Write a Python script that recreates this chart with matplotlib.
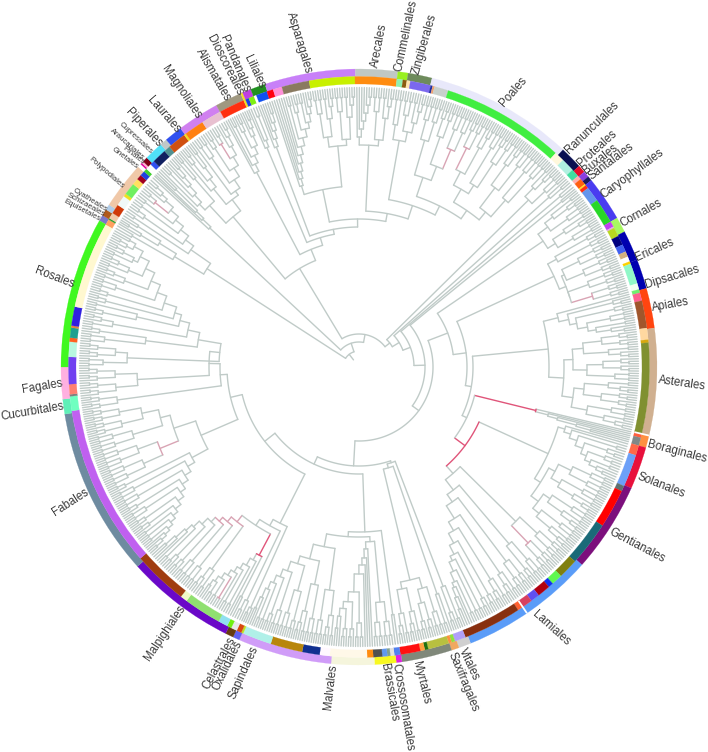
import numpy as np
import matplotlib
matplotlib.use('Agg')
import matplotlib.pyplot as plt
from matplotlib.collections import LineCollection

plt.rcParams['font.family'] = ['Liberation Sans', 'DejaVu Sans']

# outer ring, clockwise from the ferns: clock angle where each order ends
order_names = ["Equisetales", "Schizaeales", "Cyatheales", "Polypodiales", "Gnetales", "Pinales",
               "Araucariales", "Cupressales", "Piperales", "Chloranthales", "Laurales", "Magnoliales",
               "Alismatales", "Dioscoreales", "Pandanales", "Liliales", "Asparagales", "Arecales",
               "Commelinales", "Zingiberales", "Poales", "Ranunculales", "Proteales", "Buxales",
               "Santalales", "Caryophyllales", "Cornales", "Ericales", "Dipsacales", "Apiales",
               "Asterales", "Boraginales", "Solanales", "Gentianales", "Lamiales", "Vitales",
               "Saxifragales", "Myrtales", "Crossosomatales", "Brassicales", "Malvales", "Sapindales",
               "Oxalidales", "Celastrales", "Malpighiales", "Fabales", "Cucurbitales", "Fagales", "Rosales"]
order_ends = [300.6, 301.9, 303.0, 312.2, 312.9, 313.2, 313.6, 314.6, 318.3, 319.7, 323.2, 331.4,
              336.6, 337.0, 338.7, 341.6, 359.3, 7.5, 9.5, 14.2, 43.2, 47.6, 49.1, 50.3, 51.2, 60.0,
              63.0, 68.9, 74.7, 82.5, 103.2, 105.7, 114.0, 131.6, 158.0, 160.4, 161.9, 171.7, 172.8,
              177.0, 185.4, 203.7, 205.0, 206.6, 228.0, 260.9, 263.8, 270.0, 299.4]
order_colors = ["#7b78c8", "#b05a1c", "#b0cce8", "#f0c8a8", "#ffffff", "#e000a0", "#ffb0d0", "#800018",
                "#50e0f8", "#c0c8c8", "#3050f0", "#d080f0", "#a09880", "#f0e020", "#c040e0", "#209020",
                "#c880f8", "#c0c8c4", "#98f020", "#6e8b5c", "#e8e8fa", "#0a1050", "#e8102c", "#8a40e0",
                "#1a1a60", "#4a3cf0", "#a8f860", "#0000b0", "#0000b0", "#ff4510", "#d0b090", "#ff9040",
                "#e8103c", "#7c0f7c", "#5a9cf8", "#d0d0d0", "#f0a860", "#80887a", "#e020e0", "#f8f820",
                "#f5f5dc", "#d09cf8", "#6060f0", "#663c10", "#6a08c8", "#6e8ba0", "#60f0b8", "#ffb0e0",
                "#40f820"]

# inner ring (families): end angle and colour
family_ends = [300.5, 300.8, 302, 303.9, 306, 306.6, 309, 310.3, 311.3, 312.3, 313, 314.2, 315.1, 318,
               319.3, 323, 323.4, 327.4, 331.5, 336.6, 337, 337.7, 338.8, 339.3, 341.5, 342.8, 344.6,
               350.1, 359.2, 7.5, 8.7, 9.5, 10.2, 14.3, 14.7, 15.1, 17.9, 42.6, 44.6, 47.3, 48.9, 49.7,
               51, 51.3, 52, 55, 60, 61.1, 61.4, 63.2, 65.1, 66.6, 67.7, 68.7, 69.2, 73.3, 74.5, 75.2,
               76.8, 82.3, 84.6, 85.2, 103.3, 104.1, 105.7, 107.7, 114.2, 115.3, 123.1, 132, 136, 138.2,
               139.2, 141.8, 143.6, 145.6, 146.8, 158.5, 160.7, 161.4, 162, 166.2, 166.9, 167.8, 171.8,
               173, 173.8, 174.4, 175.4, 177.2, 178.4, 185.8, 187.8, 191.3, 197.7, 203.5, 203.9, 204.9,
               206.1, 207, 208.9, 216.4, 217.8, 228.8, 261.3, 264.2, 264.6, 266.6, 272, 275, 275.8,
               277.8, 278.2, 282, 299.3]
family_colors = ["#ffa060", "#30a030", "#f0c8a8", "#d03808", "#f0f8f8", "#f0e020", "#70f060", "#ffe060",
                 "#a00020", "#2040e0", "#40d030", "#ffffff", "#3050f0", "#102060", "#509090", "#d05010",
                 "#f0e020", "#ff8010", "#e8c0d0", "#ff3010", "#f0e020", "#2040e0", "#80f010", "#ffffff",
                 "#1050f0", "#ff0010", "#ff90d8", "#8a7a60", "#c8f000", "#ff8c10", "#90f0b0", "#8b5a10",
                 "#ffe4b0", "#7b68ee", "#2030a0", "#f0a070", "#c8d0cc", "#40ee40", "#fff8dc", "#b0f0e0",
                 "#40e0a0", "#ffb0b0", "#ff6010", "#ffe020", "#ff3010", "#6495ed", "#28d828", "#c040f0",
                 "#e0b0e0", "#b8d820", "#000080", "#4060f0", "#d0b080", "#ffffff", "#ffd000", "#90f8c8",
                 "#f0fff0", "#70f070", "#ff6090", "#a0562c", "#ffd8a0", "#d8a810", "#809030", "#ff6040",
                 "#808888", "#ff6848", "#6ca0f8", "#607070", "#ff0000", "#1a6a78", "#808010", "#60f850",
                 "#1030f0", "#b00010", "#6050f0", "#d84060", "#ff6030", "#883010", "#b0a0f8", "#90e040",
                 "#ff9040", "#b8c040", "#207010", "#ffa040", "#ff1010", "#5080f0", "#e0e0e0", "#80a090",
                 "#6098f0", "#505050", "#ff8c10", "#fff8e8", "#fff8ff", "#103090", "#b8860b", "#b0f0e8",
                 "#c0e020", "#d84810", "#e8e8e8", "#70f010", "#90e0f0", "#90e070", "#f0f8c8", "#a03c10",
                 "#c060f0", "#70ffc0", "#808080", "#ff8070", "#7040f0", "#b8f8e0", "#ff6020", "#20a090",
                 "#e08040", "#3020e0", "#fff8d0"]

ring_notches = [103.3, 145.7]

# order labels: name, clock angle and radius of the end next to the ring, rotation
label_names = ["Equisetales", "Schizaeales", "Cyatheales", "Polypodiales", "Gnetales", "Pinales",
               "Araucariales", "Cupressales", "Piperales", "Laurales", "Magnoliales", "Alismatales",
               "Dioscoreales", "Pandanales", "Liliales", "Asparagales", "Arecales", "Commelinales",
               "Zingiberales", "Poales", "Ranunculales", "Proteales", "Buxales", "Santalales",
               "Caryophyllales", "Cornales", "Ericales", "Dipsacales", "Apiales", "Asterales",
               "Boraginales", "Solanales", "Gentianales", "Lamiales", "Vitales", "Saxifragales",
               "Myrtales", "Crossosomatales", "Brassicales", "Malvales", "Sapindales", "Oxalidales",
               "Celastrales", "Malpighiales", "Fabales", "Cucurbitales", "Fagales", "Rosales"]
label_angles = [299.6, 300.8, 301.9, 307.3, 312.0, 313.4, 313.9, 316.0, 318.1, 322.4, 327.2, 333.9,
                336.4, 337.7, 340.9, 350.2, 3.0, 7.7, 11.0, 28.6, 44.0, 47.4, 49.1, 50.6, 55.0, 61.4,
                68.5, 74.0, 78.6, 92.5, 105.0, 111.4, 123.2, 144.6, 160.0, 162.2, 169.0, 173.0, 175.2,
                185.0, 200.4, 203.5, 205.0, 216.4, 245.4, 262.5, 266.9, 286.0]
label_radii = [298, 297, 297, 297, 298, 297, 300, 298, 298, 297, 297, 297, 297, 297, 296, 298, 300, 298,
               298, 298, 299, 299, 298, 298, 297, 298, 298, 298, 299, 300, 299, 299, 300, 302, 300, 300,
               300, 299, 298, 299, 298, 299, 299, 297, 298, 298, 297, 297]
label_rotations = [-27.6, -29, -31.5, -41, -37, -37, -41.8, -43, -47.7, -49.4, -56, -60, -63, -67, -65,
                   -73, 79, 78, 74, 49, 44, 42, 38, 37, 36.5, 29, 24, 17, 10, -8, -14.5, -21.5, -27.7,
                   -42, -65, -67.6, -76, -80.6, -80, 83.4, 65.7, 64, 62, 56, 33, 9.8, 9.5, -21]
small_labels = ["Equisetales", "Schizaeales", "Cyatheales", "Polypodiales", "Gnetales", "Pinales",
                "Araucariales", "Cupressales"]

RED = "#e0557a"
PINK = "#d9a4b4"


def lad(*steps, flip=False):
    # a comb: each step is a node radius, or (radius, side clade)
    node = None
    for step in reversed(steps):
        r, side = step if isinstance(step, tuple) else (step, 1)
        if node is None:
            node = [r, 2] if side == 1 else [r, side, 1]
        else:
            node = [r, node, side] if flip else [r, side, node]
    return node


# small clades next to the rim
t2 = [270, 2]
t3 = [262, 1, t2]
t4 = [256, t2, t2]
t5 = [250, t2, t3]
t6 = [244, t3, t3]
t8 = [236, t4, t4]
t9 = [232, t4, t5]

# subtree of every order: [node radius, child, child...], an integer child is that many tips
# (colour, node) paints the stem and the arc of that node
trees = {
    "Equisetales": [262, 2],
    "Schizaeales": [255, 1, t2],
    "Cyatheales": [262, 2],
    "Polypodiales": lad((205, t2), (215, t3), (225, t2), (235, t2), (245, (PINK, t3)), 255, 262, 270),
    "Gnetales": [240, 1],
    "Pinales": [240, 1],
    "Araucariales": [245, 1],
    "Cupressales": [255, 2],
    "Piperales": lad(228, (238, t2), 248, 258, 268),
    "Chloranthales": [250, 1, t2],
    "Laurales": lad(230, (240, t3), 252, 268),
    "Magnoliales": lad(215, (225, t4), (235, t3), (245, (PINK, t3)), 255, 265, 272),
    "Alismatales": lad(220, 228, (236, t2), (244, t3), 254, 262, 270),
    "Dioscoreales": [250, 1],
    "Pandanales": [245, 1, t2],
    "Liliales": lad(235, 243, 251, 259, 268),
    "Asparagales": [181, lad(190, 197, 204, 212, 220, 228, (236, t2), (244, t3), (250, t2), 258, 265, 272),
                    [222, [232, t4, t5], [228, t4, t5]]],
    "Arecales": [222, lad(230, 238, 246, 254, 262, 270), [228, t4, t5]],
    "Commelinales": [245, t2, t2],
    "Zingiberales": [240, t4, t5],
    "Poales": [180, [200, t8, [215, t6, (PINK, t8)]],
               [190, [205, [220, (PINK, t6), t5], [215, t4, t6]], [200, [225, t5, t4], [222, t4, t4]]]],
    "Ranunculales": [238, [250, t2, t3], t4],
    "Proteales": [255, 1, t2],
    "Buxales": [264, 2],
    "Santalales": [262, 2],
    "Caryophyllales": [223, [235, [245, t2, t3], t4], [232, [246, t2, t3], [250, t2, t2]]],
    "Cornales": [225, t3, t3],
    "Ericales": [225, t6, t6],
    "Dipsacales": [222, t6, (PINK, t6)],
    "Apiales": lad(205, (215, t3), (222, t3), (232, t4), (240, t2), 255, 268),
    "Asterales": [205, [214, [225, t6, t5], [228, t6, t4]], [216, [226, t5, t6], [232, t4, t5]]],
    "Boraginales": (RED, lad(182, 195, 205, 225, 240)),
    "Solanales": lad(215, 222, (230, t2), (238, t3), (244, t3), (250, t2), 258, 265),
    "Gentianales": [215, [222, t8, t9], [224, t9, t9]],
    "Lamiales": lad((142, [220, t6, (PINK, t6)]), (155, [232, t4, t3]), (164, t6), (179, t5), (189, t5),
                    (200, t3), (210, t3), (215, t2), (225, t2), (235, t2), 240, 250, 262),
    "Vitales": [235, t2, t3],
    "Saxifragales": [240, 1, t2],
    "Myrtales": [219, [230, t4, t6], [226, t5, t5]],
    "Crossosomatales": [250, 2],
    "Brassicales": t8,
    "Malvales": lad(182, 191, 198, 207, (225, t4), (235, t3), (242, t3), 250, 262),
    "Sapindales": lad((183, [225, t5, t4]), (198, [222, t4, t5]), (206, [232, t3, t4]), (216, t4), (224, t3),
                      (232, t2), (240, t2), 250, 262),
    "Oxalidales": [264, 1, t2],
    "Celastrales": [259, 1, t2],
    "Malpighiales": [189,
                     (RED, [213, [258, 2],
                            lad(220, (228, t2), (234, t2), 240, (246, (PINK, t2)), (252, t2), (258, t2), 264)]),
                     (PINK, [197, t5,
                             (PINK, [203, t4,
                                     (PINK, [208, t4,
                                             lad((214, t3), (222, t3), (230, t2), 238, 250, 262)])])])],
    "Fabales": [172,
                lad((190, t3), (198, t4), (205, t4), (212, t3), (218, t4), (225, t3), (232, t3), (238, t2),
                    (244, t2), (250, t2), 256, 262, 270, flip=True),
                [195, (PINK, [215, t8, t8]), [205, t8, [222, t6, t6]]]],
    "Cucurbitales": t6,
    "Fagales": [222, t6, t6],
    "Rosales": lad((140, [232, t4, t6]), (163, [215, t4, t3]), (175, t5), (185, [228, t3, t2]), (192, t3),
                   (205, t3), (215, t4), (225, t5), (235, t5), (245, t5), (255, t3), 262),
}

# backbone: the orders hang from these nodes by name
ferns = [181, [215, "Equisetales", [235, "Schizaeales", "Cyatheales"]], "Polypodiales"]
gymnosperms = [204, "Gnetales", [215, "Pinales", [225, "Araucariales", "Cupressales"]]]
magnoliids = [196, [220, "Piperales", "Chloranthales"], [210, "Laurales", "Magnoliales"]]
commelinids = [156, "Arecales", [170, [230, "Commelinales", "Zingiberales"], "Poales"]]
monocots = [127, "Alismatales",
            [135, [238, "Dioscoreales", "Pandanales"],
             [140, "Liliales", [148, "Asparagales", commelinids]]]]
solgent = [208, "Solanales", "Gentianales"]
lamiids = [119, "Boraginales", (RED, [132, solgent, "Lamiales"])]
asterids = [108, [215, "Cornales", [222, "Ericales", "Dipsacales"]],
            [114, [190, "Apiales", "Asterales"], lamiids]]
malvids = [165, "Crossosomatales", [170, [175, "Brassicales", "Malvales"], "Sapindales"]]
fabids = [120, [175, "Oxalidales", [182, "Celastrales", "Malpighiales"]],
          [132, "Fabales", [139, "Cucurbitales", [150, "Fagales", "Rosales"]]]]
rosids = [99, [101, "Vitales", [105, "Saxifragales", "Myrtales"]], [107, malvids, fabids]]
eudicots = [39, "Ranunculales",
            [47, "Proteales",
             [55, "Buxales",
              [66, "Santalales",
               [74, [95, "Caryophyllales", asterids], rosids]]]]]
backbone = [16, ferns, [25, gymnosperms, [33, [115, magnoliids, monocots], eudicots]]]

TIP_R = 279.5
LINE_COLOR = "#c0cbc8"

# unwrap the clock angles so that they keep increasing round the tree
ends_unwrapped = np.unwrap(order_ends, period=360)
starts_unwrapped = np.r_[299.4, ends_unwrapped[:-1]]
spans = {n: (s, e) for n, s, e in zip(order_names, starts_unwrapped, ends_unwrapped)}


def count_tips(node):
    if isinstance(node, int):
        return node
    if isinstance(node, tuple):
        return count_tips(node[1])
    return sum(count_tips(c) for c in node[1:])


segments = []
seg_colors = []
cursor = [0.0, 0.0]


def add_radial(angle, r0, r1, color):
    segments.append(np.column_stack([np.radians([angle, angle]), [r0, r1]]))
    seg_colors.append(color)


def add_arc(r, a0, a1, color):
    n = max(2, int(abs(a1 - a0)) + 2)
    th = np.radians(np.linspace(a0, a1, n))
    segments.append(np.column_stack([th, np.full(n, r)]))
    seg_colors.append(color)


def walk(node, parent_r, color=LINE_COLOR):
    # returns the angle of the node, draws the branch up from parent_r
    if isinstance(node, str):
        tree = trees[node]
        a, b = spans[node]
        cursor[0] = (b - a) / count_tips(tree)
        cursor[1] = a + cursor[0] / 2
        return walk(tree, parent_r, color)
    if isinstance(node, tuple):
        return walk(node[1], parent_r, node[0])
    r = node[0]
    angles = []
    for child in node[1:]:
        if isinstance(child, int):
            for _ in range(child):
                add_radial(cursor[1], r, TIP_R, LINE_COLOR)
                angles.append(cursor[1])
                cursor[1] += cursor[0]
        else:
            angles.append(walk(child, r))
    mid = (angles[0] + angles[-1]) / 2
    add_arc(r, angles[0], angles[-1], color)
    add_radial(mid, parent_r, r, color)
    return mid


fig = plt.figure(figsize=(7.08, 7.52), dpi=100, facecolor='white')
# axes centred on the tree, one radial unit is one pixel
half = 350
cx, cy = 359, 367
ax = fig.add_axes([(cx - half) / 708, (752 - cy - half) / 752, 2 * half / 708, 2 * half / 752],
                  projection='polar')
ax.set_theta_zero_location('N')
ax.set_theta_direction(-1)
ax.set_ylim(0, half)
ax.axis('off')

walk(backbone, 9)
ax.add_collection(LineCollection(segments, colors=seg_colors, linewidths=1.0, capstyle='round',
                                 joinstyle='round'), autolim=False)

# rings
widths = ends_unwrapped - starts_unwrapped
ax.bar(np.radians(starts_unwrapped), 7.5, width=np.radians(widths), bottom=290.5, align='edge',
       color=order_colors, edgecolor=order_colors, linewidth=0.15)
fam_ends = np.unwrap(family_ends, period=360)
fam_starts = np.r_[299.3, fam_ends[:-1]]
ax.bar(np.radians(fam_starts), 7.5, width=np.radians(fam_ends - fam_starts), bottom=283, align='edge',
       color=family_colors, edgecolor=family_colors, linewidth=0.15)
ax.bar(np.radians(ring_notches), 15, width=np.radians(0.35), bottom=283, color='white', linewidth=0)

# labels
for name, ang, r, rot in zip(label_names, label_angles, label_radii, label_rotations):
    small = name in small_labels
    ax.text(np.radians(ang), r, name, rotation=rot, rotation_mode='anchor', va='center',
            ha='right' if ang > 180 else 'left', fontsize=5.6 if small else 8.3, color='#3a3a3a')

fig.savefig("out.png", dpi=100, facecolor='white')
